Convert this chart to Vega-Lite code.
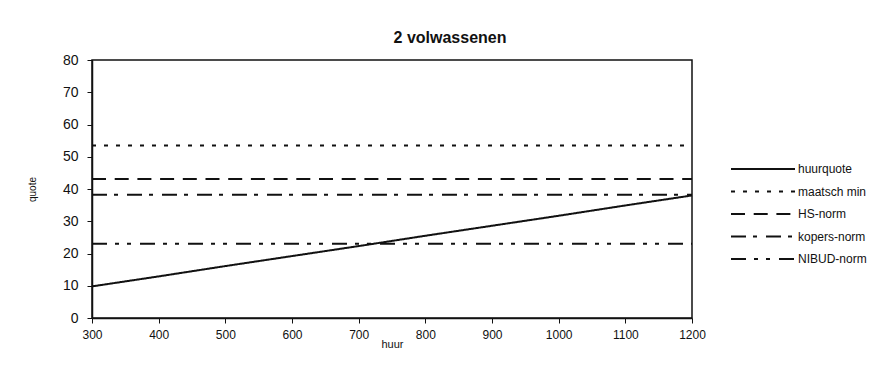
{
  "$schema": "https://vega.github.io/schema/vega-lite/v6.json",
  "width": 600,
  "height": 258,
  "autosize": {"type": "none"},
  "padding": {"left": 92, "top": 60, "right": 197, "bottom": 50},
  "background": "white",
  "title": {
    "text": "2 volwassenen",
    "fontSize": 16,
    "font": "Liberation Sans",
    "fontWeight": "bold",
    "color": "#111",
    "anchor": "middle",
    "dx": 58,
    "offset": 7
  },
  "config": {
    "font": "Liberation Sans",
    "view": {"stroke": "#111", "strokeWidth": 1.5},
    "axis": {
      "grid": false,
      "domainColor": "#111",
      "domainWidth": 1.5,
      "tickColor": "#111",
      "labelColor": "#111",
      "titleColor": "#111",
      "labelFont": "Liberation Sans",
      "titleFont": "Liberation Sans",
      "titleFontWeight": "normal"
    }
  },
  "data": {
    "values": [
      {"huur": 300, "quote": 9.8, "serie": "huurquote"},
      {"huur": 400, "quote": 12.9, "serie": "huurquote"},
      {"huur": 500, "quote": 16.1, "serie": "huurquote"},
      {"huur": 600, "quote": 19.2, "serie": "huurquote"},
      {"huur": 700, "quote": 22.3, "serie": "huurquote"},
      {"huur": 800, "quote": 25.5, "serie": "huurquote"},
      {"huur": 900, "quote": 28.6, "serie": "huurquote"},
      {"huur": 1000, "quote": 31.7, "serie": "huurquote"},
      {"huur": 1100, "quote": 34.9, "serie": "huurquote"},
      {"huur": 1200, "quote": 38.0, "serie": "huurquote"},
      {"huur": 300, "quote": 53.5, "serie": "maatsch min"},
      {"huur": 1200, "quote": 53.5, "serie": "maatsch min"},
      {"huur": 300, "quote": 43.1, "serie": "HS-norm"},
      {"huur": 1200, "quote": 43.1, "serie": "HS-norm"},
      {"huur": 300, "quote": 38.2, "serie": "kopers-norm"},
      {"huur": 1200, "quote": 38.2, "serie": "kopers-norm"},
      {"huur": 300, "quote": 23.0, "serie": "NIBUD-norm"},
      {"huur": 1200, "quote": 23.0, "serie": "NIBUD-norm"}
    ]
  },
  "mark": {"type": "line", "color": "#111", "strokeWidth": 2},
  "encoding": {
    "x": {
      "field": "huur",
      "type": "quantitative",
      "scale": {"domain": [300, 1200], "nice": false, "zero": false},
      "axis": {
        "values": [300, 400, 500, 600, 700, 800, 900, 1000, 1100, 1200],
        "format": "d",
        "title": "huur",
        "titleFontSize": 11,
        "titlePadding": -2,
        "labelFontSize": 12,
        "tickSize": 5,
        "labelPadding": 6,
        "labelFlush": false
      }
    },
    "y": {
      "field": "quote",
      "type": "quantitative",
      "scale": {"domain": [0, 80], "nice": false},
      "axis": {
        "values": [0, 10, 20, 30, 40, 50, 60, 70, 80],
        "title": "quote",
        "titleFontSize": 10,
        "titlePadding": 25,
        "labelFontSize": 14,
        "tickSize": 5,
        "labelPadding": 9
      }
    },
    "strokeDash": {
      "field": "serie",
      "type": "nominal",
      "scale": {
        "domain": ["huurquote", "maatsch min", "HS-norm", "kopers-norm", "NIBUD-norm"],
        "range": [[1, 0], [4, 8], [14, 8.7], [15, 7, 4, 9], [15, 8, 4, 8, 4, 9]]
      },
      "legend": {
        "title": null,
        "orient": "none",
        "legendX": 633,
        "legendY": 103,
        "padding": 0,
        "symbolType": "M0,0H16",
        "symbolSize": 64,
        "symbolStrokeWidth": 2,
        "symbolStrokeColor": "#111",
        "labelOffset": 61,
        "labelFontSize": 12,
        "labelColor": "#111",
        "labelFont": "Liberation Sans",
        "rowPadding": 10.5
      }
    }
  }
}
